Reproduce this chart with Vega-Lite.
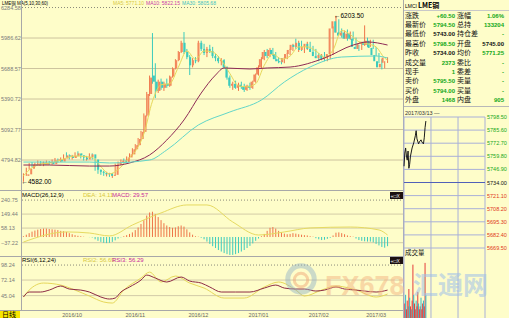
{
"$schema":"https://vega.github.io/schema/vega-lite/v6.json",
"width":509,"height":318,"autosize":"none","padding":0,
"background":"#fefdc9",
"config":{"view":{"stroke":null},"axis":{"disable":true},"legend":{"disable":true},"text":{"font":"Liberation Sans"}},
"datasets":{
"k":[
{"d":0,"o":4640,"h":4665,"l":4582,"c":4655},{"d":1,"o":4655,"h":4720,"l":4640,"c":4710},{"d":2,"o":4710,"h":4765,"l":4700,"c":4750},{"d":3,"o":4750,"h":4775,"l":4725,"c":4740},{"d":4,"o":4740,"h":4770,"l":4730,"c":4760},{"d":5,"o":4760,"h":4790,"l":4745,"c":4770},{"d":6,"o":4770,"h":4785,"l":4740,"c":4750},{"d":7,"o":4750,"h":4780,"l":4735,"c":4765},{"d":8,"o":4765,"h":4790,"l":4750,"c":4775},{"d":9,"o":4775,"h":4785,"l":4745,"c":4755},
{"d":10,"o":4755,"h":4800,"l":4750,"c":4790},{"d":11,"o":4790,"h":4815,"l":4775,"c":4800},{"d":12,"o":4800,"h":4810,"l":4770,"c":4780},{"d":13,"o":4780,"h":4820,"l":4775,"c":4810},{"d":14,"o":4810,"h":4850,"l":4800,"c":4840},{"d":15,"o":4840,"h":4870,"l":4820,"c":4830},{"d":16,"o":4830,"h":4850,"l":4800,"c":4815},{"d":17,"o":4815,"h":4845,"l":4800,"c":4835},{"d":18,"o":4835,"h":4870,"l":4820,"c":4860},{"d":19,"o":4860,"h":4880,"l":4830,"c":4840},
{"d":20,"o":4840,"h":4855,"l":4810,"c":4820},{"d":21,"o":4820,"h":4840,"l":4790,"c":4800},{"d":22,"o":4800,"h":4835,"l":4790,"c":4825},{"d":23,"o":4825,"h":4860,"l":4815,"c":4850},{"d":24,"o":4850,"h":4860,"l":4800,"c":4810},{"d":25,"o":4800,"h":4810,"l":4690,"c":4700},{"d":26,"o":4700,"h":4715,"l":4660,"c":4680},{"d":27,"o":4680,"h":4700,"l":4650,"c":4670},{"d":28,"o":4670,"h":4690,"l":4640,"c":4655},{"d":29,"o":4655,"h":4680,"l":4635,"c":4665},
{"d":30,"o":4665,"h":4670,"l":4630,"c":4640},{"d":31,"o":4640,"h":4665,"l":4620,"c":4650},{"d":32,"o":4650,"h":4760,"l":4645,"c":4750},{"d":33,"o":4750,"h":4780,"l":4735,"c":4770},{"d":34,"o":4770,"h":4800,"l":4750,"c":4790},{"d":35,"o":4790,"h":4810,"l":4760,"c":4775},{"d":36,"o":4775,"h":4830,"l":4770,"c":4820},{"d":37,"o":4820,"h":4860,"l":4810,"c":4850},{"d":38,"o":4850,"h":4910,"l":4840,"c":4900},{"d":39,"o":4900,"h":4950,"l":4880,"c":4940},
{"d":40,"o":4940,"h":5010,"l":4930,"c":5000},{"d":41,"o":5000,"h":5080,"l":4990,"c":5070},{"d":42,"o":5070,"h":5250,"l":5060,"c":5230},{"d":43,"o":5230,"h":5460,"l":5220,"c":5440},{"d":44,"o":5440,"h":5620,"l":5420,"c":5600},{"d":45,"o":5620,"h":6035,"l":5540,"c":5560},{"d":46,"o":5560,"h":5740,"l":5400,"c":5470},{"d":47,"o":5470,"h":5580,"l":5450,"c":5560},{"d":48,"o":5560,"h":5590,"l":5480,"c":5500},{"d":49,"o":5500,"h":5560,"l":5470,"c":5540},
{"d":50,"o":5540,"h":5590,"l":5500,"c":5520},{"d":51,"o":5520,"h":5620,"l":5510,"c":5610},{"d":52,"o":5610,"h":5700,"l":5600,"c":5690},{"d":53,"o":5690,"h":5780,"l":5680,"c":5770},{"d":54,"o":5770,"h":5860,"l":5760,"c":5850},{"d":55,"o":5850,"h":5960,"l":5840,"c":5940},{"d":56,"o":5940,"h":6045,"l":5830,"c":5850},{"d":57,"o":5850,"h":5880,"l":5780,"c":5800},{"d":58,"o":5800,"h":5820,"l":5625,"c":5720},{"d":59,"o":5720,"h":5790,"l":5700,"c":5770},
{"d":60,"o":5770,"h":5800,"l":5740,"c":5760},{"d":61,"o":5760,"h":5960,"l":5750,"c":5940},{"d":62,"o":5940,"h":5960,"l":5860,"c":5880},{"d":63,"o":5880,"h":5930,"l":5820,"c":5840},{"d":64,"o":5840,"h":5900,"l":5800,"c":5880},{"d":65,"o":5880,"h":5920,"l":5840,"c":5860},{"d":66,"o":5860,"h":5900,"l":5790,"c":5810},{"d":67,"o":5810,"h":5830,"l":5760,"c":5790},{"d":68,"o":5790,"h":5810,"l":5740,"c":5760},{"d":69,"o":5760,"h":5790,"l":5720,"c":5770},
{"d":70,"o":5770,"h":5780,"l":5690,"c":5700},{"d":71,"o":5700,"h":5710,"l":5580,"c":5600},{"d":72,"o":5600,"h":5620,"l":5500,"c":5520},{"d":73,"o":5520,"h":5560,"l":5480,"c":5540},{"d":74,"o":5540,"h":5570,"l":5490,"c":5500},{"d":75,"o":5500,"h":5550,"l":5470,"c":5530},{"d":76,"o":5530,"h":5560,"l":5490,"c":5510},{"d":77,"o":5510,"h":5540,"l":5460,"c":5480},{"d":78,"o":5480,"h":5530,"l":5470,"c":5520},{"d":79,"o":5520,"h":5550,"l":5480,"c":5500},
{"d":80,"o":5500,"h":5570,"l":5490,"c":5560},{"d":81,"o":5560,"h":5640,"l":5550,"c":5630},{"d":82,"o":5630,"h":5720,"l":5620,"c":5700},{"d":83,"o":5700,"h":5800,"l":5690,"c":5780},{"d":84,"o":5780,"h":5870,"l":5770,"c":5850},{"d":85,"o":5850,"h":5880,"l":5790,"c":5810},{"d":86,"o":5810,"h":5890,"l":5800,"c":5870},{"d":87,"o":5870,"h":5890,"l":5810,"c":5830},{"d":88,"o":5830,"h":5850,"l":5760,"c":5780},{"d":89,"o":5780,"h":5800,"l":5740,"c":5760},
{"d":90,"o":5760,"h":5790,"l":5730,"c":5750},{"d":91,"o":5750,"h":5800,"l":5740,"c":5790},{"d":92,"o":5790,"h":5840,"l":5780,"c":5830},{"d":93,"o":5830,"h":5880,"l":5820,"c":5870},{"d":94,"o":5870,"h":5930,"l":5860,"c":5920},{"d":95,"o":5920,"h":5980,"l":5880,"c":5900},{"d":96,"o":5900,"h":5960,"l":5850,"c":5940},{"d":97,"o":5940,"h":5960,"l":5860,"c":5870},{"d":98,"o":5870,"h":5920,"l":5840,"c":5900},{"d":99,"o":5900,"h":5950,"l":5870,"c":5930},
{"d":100,"o":5930,"h":5950,"l":5860,"c":5880},{"d":101,"o":5880,"h":5910,"l":5830,"c":5850},{"d":102,"o":5850,"h":5880,"l":5790,"c":5810},{"d":103,"o":5810,"h":5840,"l":5760,"c":5790},{"d":104,"o":5790,"h":5830,"l":5770,"c":5820},{"d":105,"o":5820,"h":5850,"l":5760,"c":5780},{"d":106,"o":5780,"h":5820,"l":5760,"c":5800},{"d":107,"o":5800,"h":5840,"l":5780,"c":5830},{"d":108,"o":5830,"h":6100,"l":5820,"c":6080},{"d":109,"o":6080,"h":6203.5,"l":6040,"c":6150},
{"d":110,"o":6150,"h":6170,"l":6020,"c":6040},{"d":111,"o":6040,"h":6080,"l":5990,"c":6010},{"d":112,"o":6010,"h":6060,"l":5980,"c":6040},{"d":113,"o":6040,"h":6070,"l":5960,"c":5980},{"d":114,"o":5980,"h":6050,"l":5970,"c":6030},{"d":115,"o":6030,"h":6050,"l":5960,"c":5980},{"d":116,"o":5980,"h":5990,"l":5880,"c":5900},{"d":117,"o":5900,"h":5920,"l":5860,"c":5880},{"d":118,"o":5880,"h":5950,"l":5870,"c":5930},{"d":119,"o":5930,"h":6110,"l":5910,"c":5950},
{"d":120,"o":5950,"h":5990,"l":5900,"c":5920},{"d":121,"o":5920,"h":5970,"l":5900,"c":5960},{"d":122,"o":5960,"h":5970,"l":5880,"c":5890},{"d":123,"o":5890,"h":5900,"l":5810,"c":5820},{"d":124,"o":5820,"h":5840,"l":5740,"c":5760},{"d":125,"o":5760,"h":5780,"l":5680,"c":5700},{"d":126,"o":5700,"h":5760,"l":5690,"c":5734},{"d":127,"o":5745,"h":5798.5,"l":5743,"c":5794.5}
],
"ma":[
{"s":"MA5","d":0,"p":4640},{"s":"MA5","d":3,"p":4720},{"s":"MA5","d":6,"p":4755},{"s":"MA5","d":9,"p":4765},{"s":"MA5","d":12,"p":4785},{"s":"MA5","d":15,"p":4815},{"s":"MA5","d":18,"p":4835},{"s":"MA5","d":21,"p":4830},{"s":"MA5","d":24,"p":4820},{"s":"MA5","d":27,"p":4730},{"s":"MA5","d":30,"p":4660},{"s":"MA5","d":33,"p":4700},{"s":"MA5","d":36,"p":4790},{"s":"MA5","d":39,"p":4880},{"s":"MA5","d":42,"p":5050},{"s":"MA5","d":45,"p":5370},{"s":"MA5","d":48,"p":5530},{"s":"MA5","d":51,"p":5540},{"s":"MA5","d":54,"p":5700},{"s":"MA5","d":57,"p":5860},{"s":"MA5","d":60,"p":5780},{"s":"MA5","d":63,"p":5860},{"s":"MA5","d":66,"p":5850},{"s":"MA5","d":69,"p":5770},{"s":"MA5","d":72,"p":5640},{"s":"MA5","d":75,"p":5520},{"s":"MA5","d":78,"p":5510},{"s":"MA5","d":81,"p":5540},{"s":"MA5","d":84,"p":5720},{"s":"MA5","d":87,"p":5830},{"s":"MA5","d":90,"p":5780},{"s":"MA5","d":93,"p":5810},{"s":"MA5","d":96,"p":5900},{"s":"MA5","d":99,"p":5900},{"s":"MA5","d":102,"p":5860},{"s":"MA5","d":105,"p":5800},{"s":"MA5","d":108,"p":5870},{"s":"MA5","d":111,"p":6060},{"s":"MA5","d":114,"p":6020},{"s":"MA5","d":117,"p":5950},{"s":"MA5","d":120,"p":5930},{"s":"MA5","d":123,"p":5900},{"s":"MA5","d":126,"p":5790},{"s":"MA5","d":127,"p":5771},
{"s":"MA30","d":0,"p":4746},{"s":"MA30","d":9,"p":4746},{"s":"MA30","d":23,"p":4736},{"s":"MA30","d":30,"p":4736},{"s":"MA30","d":37,"p":4766},{"s":"MA30","d":44,"p":4844},{"s":"MA30","d":50,"p":4990},{"s":"MA30","d":56,"p":5186},{"s":"MA30","d":62,"p":5449},{"s":"MA30","d":67,"p":5625},{"s":"MA30","d":70,"p":5694},{"s":"MA30","d":79,"p":5684},{"s":"MA30","d":85,"p":5694},{"s":"MA30","d":93,"p":5703},{"s":"MA30","d":105,"p":5791},{"s":"MA30","d":115,"p":5918},{"s":"MA30","d":120,"p":5948},{"s":"MA30","d":127,"p":5918},
{"s":"MA60","d":0,"p":4775},{"s":"MA60","d":23,"p":4775},{"s":"MA60","d":30,"p":4766},{"s":"MA60","d":44,"p":4795},{"s":"MA60","d":50,"p":4893},{"s":"MA60","d":61,"p":5137},{"s":"MA60","d":72,"p":5264},{"s":"MA60","d":83,"p":5381},{"s":"MA60","d":91,"p":5557},{"s":"MA60","d":100,"p":5704},{"s":"MA60","d":111,"p":5801},{"s":"MA60","d":123,"p":5811},{"s":"MA60","d":127,"p":5791}
],
"mh":[
{"d":0,"m":5},{"d":1,"m":15},{"d":2,"m":25},{"d":3,"m":35},{"d":4,"m":42},{"d":5,"m":48},{"d":6,"m":52},{"d":7,"m":55},{"d":8,"m":55},{"d":9,"m":52},{"d":10,"m":50},{"d":11,"m":48},{"d":12,"m":45},{"d":13,"m":40},{"d":14,"m":38},{"d":15,"m":33},{"d":16,"m":25},{"d":17,"m":18},{"d":18,"m":12},{"d":19,"m":8},{"d":20,"m":5},{"d":21,"m":2},{"d":22,"m":0},{"d":23,"m":-1},{"d":24,"m":-3},{"d":25,"m":-15},{"d":26,"m":-25},{"d":27,"m":-32},{"d":28,"m":-38},{"d":29,"m":-40},{"d":30,"m":-38},{"d":31,"m":-32},{"d":32,"m":-22},{"d":33,"m":-10},{"d":34,"m":-2},{"d":35,"m":5},{"d":36,"m":12},{"d":37,"m":20},{"d":38,"m":30},{"d":39,"m":45},{"d":40,"m":62},{"d":41,"m":85},{"d":42,"m":110},{"d":43,"m":140},{"d":44,"m":160},{"d":45,"m":165},{"d":46,"m":150},{"d":47,"m":130},{"d":48,"m":110},{"d":49,"m":90},{"d":50,"m":75},{"d":51,"m":65},{"d":52,"m":60},{"d":53,"m":62},{"d":54,"m":70},{"d":55,"m":75},{"d":56,"m":68},{"d":57,"m":50},{"d":58,"m":30},{"d":59,"m":15},{"d":60,"m":5},{"d":61,"m":2},{"d":62,"m":-5},{"d":63,"m":-15},{"d":64,"m":-30},{"d":65,"m":-45},{"d":66,"m":-60},{"d":67,"m":-72},{"d":68,"m":-85},{"d":69,"m":-95},{"d":70,"m":-105},{"d":71,"m":-112},{"d":72,"m":-117},{"d":73,"m":-117},{"d":74,"m":-112},{"d":75,"m":-105},{"d":76,"m":-95},{"d":77,"m":-85},{"d":78,"m":-72},{"d":79,"m":-58},{"d":80,"m":-42},{"d":81,"m":-25},{"d":82,"m":-10},{"d":83,"m":5},{"d":84,"m":20},{"d":85,"m":40},{"d":86,"m":60},{"d":87,"m":65},{"d":88,"m":55},{"d":89,"m":40},{"d":90,"m":30},{"d":91,"m":22},{"d":92,"m":18},{"d":93,"m":20},{"d":94,"m":25},{"d":95,"m":22},{"d":96,"m":18},{"d":97,"m":15},{"d":98,"m":12},{"d":99,"m":10},{"d":100,"m":5},{"d":101,"m":2},{"d":102,"m":-8},{"d":103,"m":-15},{"d":104,"m":-20},{"d":105,"m":-18},{"d":106,"m":-12},{"d":107,"m":-5},{"d":108,"m":10},{"d":109,"m":28},{"d":110,"m":30},{"d":111,"m":25},{"d":112,"m":18},{"d":113,"m":10},{"d":114,"m":5},{"d":115,"m":2},{"d":116,"m":-10},{"d":117,"m":-20},{"d":118,"m":-25},{"d":119,"m":-28},{"d":120,"m":-30},{"d":121,"m":-30},{"d":122,"m":-35},{"d":123,"m":-45},{"d":124,"m":-55},{"d":125,"m":-65},{"d":126,"m":-70},{"d":127,"m":-60}
],
"dea":[{"d":0,"v":-33},{"d":15,"v":33},{"d":23,"v":26},{"d":30,"v":7},{"d":38,"v":78},{"d":48,"v":157},{"d":57,"v":209},{"d":64,"v":209},{"d":73,"v":98},{"d":82,"v":13},{"d":91,"v":33},{"d":100,"v":59},{"d":114,"v":65},{"d":124,"v":46},{"d":127,"v":13}],
"rsi":[
{"s":"RSI2","d":0,"v":42.6},{"s":"RSI2","d":2,"v":54.7},{"s":"RSI2","d":7,"v":66.9},{"s":"RSI2","d":13,"v":63.4},{"s":"RSI2","d":18,"v":54.7},{"s":"RSI2","d":23,"v":44.3},{"s":"RSI2","d":28,"v":33.9},{"s":"RSI2","d":31,"v":32.1},{"s":"RSI2","d":35,"v":54.7},{"s":"RSI2","d":41,"v":75.6},{"s":"RSI2","d":44,"v":86},{"s":"RSI2","d":48,"v":68.7},{"s":"RSI2","d":53,"v":79.1},{"s":"RSI2","d":58,"v":66.9},{"s":"RSI2","d":63,"v":58.2},{"s":"RSI2","d":70,"v":40.8},{"s":"RSI2","d":77,"v":40.8},{"s":"RSI2","d":84,"v":60},{"s":"RSI2","d":89,"v":68.7},{"s":"RSI2","d":95,"v":54.7},{"s":"RSI2","d":98,"v":44.3},{"s":"RSI2","d":104,"v":54.7},{"s":"RSI2","d":109,"v":61.7},{"s":"RSI2","d":116,"v":54.7},{"s":"RSI2","d":123,"v":42.6},{"s":"RSI2","d":127,"v":47.8},
{"s":"RSI3","d":0,"v":42.6},{"s":"RSI3","d":2,"v":51.3},{"s":"RSI3","d":6,"v":51.3},{"s":"RSI3","d":9,"v":54.7},{"s":"RSI3","d":13,"v":61.7},{"s":"RSI3","d":16,"v":56.5},{"s":"RSI3","d":20,"v":54.7},{"s":"RSI3","d":23,"v":51.3},{"s":"RSI3","d":27,"v":42.6},{"s":"RSI3","d":30,"v":39.1},{"s":"RSI3","d":32,"v":40.8},{"s":"RSI3","d":34,"v":51.3},{"s":"RSI3","d":37,"v":60},{"s":"RSI3","d":41,"v":72.1},{"s":"RSI3","d":43,"v":80.8},{"s":"RSI3","d":46,"v":75.6},{"s":"RSI3","d":50,"v":68.7},{"s":"RSI3","d":55,"v":77.4},{"s":"RSI3","d":58,"v":70.4},{"s":"RSI3","d":62,"v":66.9},{"s":"RSI3","d":65,"v":60},{"s":"RSI3","d":69,"v":51.3},{"s":"RSI3","d":74,"v":51.3},{"s":"RSI3","d":79,"v":51.3},{"s":"RSI3","d":84,"v":58.2},{"s":"RSI3","d":88,"v":63.4},{"s":"RSI3","d":91,"v":58.2},{"s":"RSI3","d":95,"v":56.5},{"s":"RSI3","d":98,"v":56.5},{"s":"RSI3","d":102,"v":53},{"s":"RSI3","d":105,"v":54.7},{"s":"RSI3","d":109,"v":60},{"s":"RSI3","d":112,"v":56.5},{"s":"RSI3","d":116,"v":54.7},{"s":"RSI3","d":119,"v":53},{"s":"RSI3","d":123,"v":51.3},{"s":"RSI3","d":127,"v":54.7}
],
"pgrid":[{"v":6284.58},{"v":5986.62},{"v":5688.57},{"v":5390.72},{"v":5092.77},{"v":4794.82}],
"mgrid":[{"v":240.75},{"v":149.44},{"v":58.13},{"v":-37.22}],
"rgrid":[{"v":98.24},{"v":72.14},{"v":45.04}],
"dates":[{"d":17,"t":"2016/10"},{"d":39,"t":"2016/11"},{"d":61,"t":"2016/12"},{"d":82,"t":"2017/01"},{"d":103,"t":"2017/02"},{"d":123,"t":"2017/03"}],
"ann":[{"d":0,"p":4582,"t":"←4582.00"},{"d":109,"p":6203.5,"t":"←6203.50"}],
"tbl":[
{"r":0,"l1":"涨跌","v1":"+60.50","l2":"涨幅","v2":"1.06%"},
{"r":1,"l1":"最新价","v1":"5794.50","l2":"总持","v2":"133204"},
{"r":2,"l1":"最低价","v1":"5743.00","l2":"持仓差","v2":"-"},
{"r":3,"l1":"最高价","v1":"5798.50","l2":"开盘","v2":"5745.00"},
{"r":4,"l1":"昨收","v1":"5734.00","l2":"均价","v2":"5771.25"},
{"r":5,"l1":"成交量","v1":"2373","l2":"委比","v2":"-"},
{"r":6,"l1":"现手","v1":"1","l2":"委差","v2":"-"},
{"r":7,"l1":"卖价","v1":"5795.50","l2":"卖量","v2":"-"},
{"r":8,"l1":"买价","v1":"5794.00","l2":"买量","v2":"-"},
{"r":9,"l1":"外盘","v1":"1468","l2":"内盘","v2":"905"}
],
"ig":[{"v":5798.5},{"v":5785.6},{"v":5772.7},{"v":5759.8},{"v":5746.9},{"v":5734},{"v":5721.1},{"v":5708.2},{"v":5695.3},{"v":5682.4},{"v":5669.5}],
"ivx":[{"t":0},{"t":33.3},{"t":66.7},{"t":100}],
"tk":[{"t":0,"p":5750},{"t":1,"p":5763},{"t":2,"p":5768},{"t":3,"p":5760},{"t":4,"p":5756},{"t":5,"p":5765},{"t":6,"p":5748},{"t":7,"p":5752},{"t":8,"p":5760},{"t":10,"p":5768},{"t":12,"p":5773},{"t":14,"p":5780},{"t":15,"p":5785},{"t":16,"p":5777},{"t":18,"p":5772},{"t":19,"p":5774},{"t":21,"p":5776},{"t":22,"p":5774},{"t":24,"p":5772},{"t":25,"p":5778},{"t":26,"p":5788},{"t":27,"p":5794.5}],
"vol":[{"t":1,"v":25,"s":"b"},{"t":2,"v":40,"s":"s"},{"t":3,"v":15,"s":"b"},{"t":4,"v":30,"s":"b"},{"t":5,"v":20,"s":"s"},{"t":6,"v":50,"s":"b"},{"t":7,"v":35,"s":"s"},{"t":8,"v":20,"s":"b"},{"t":9,"v":15,"s":"s"},{"t":10,"v":30,"s":"b"},{"t":11,"v":92,"s":"b"},{"t":12,"v":40,"s":"s"},{"t":13,"v":25,"s":"b"},{"t":14,"v":15,"s":"b"},{"t":15,"v":30,"s":"s"},{"t":16,"v":20,"s":"b"},{"t":17,"v":45,"s":"b"},{"t":18,"v":25,"s":"s"},{"t":19,"v":15,"s":"b"},{"t":20,"v":20,"s":"b"},{"t":21,"v":35,"s":"s"},{"t":22,"v":15,"s":"b"},{"t":23,"v":25,"s":"b"},{"t":24,"v":30,"s":"s"},{"t":25,"v":20,"s":"b"},{"t":26,"v":95,"s":"b"},{"t":27,"v":40,"s":"s"}]
},
"layer":[
{"data":{"name":"pgrid"},"transform":[{"filter":"datum.v < 6000"}],"mark":{"type":"rule","color":"#cdc49e","strokeWidth":1},"encoding":{"x":{"value":22},"x2":{"value":403},"y":{"field":"v","type":"quantitative","scale":{"domain":[4502,6358],"range":[190,0],"nice":false,"zero":false}}}},
{"data":{"name":"pgrid"},"transform":[{"filter":"datum.v > 6000"}],"mark":{"type":"rule","color":"#8a8a7a","strokeWidth":1,"strokeDash":[1,2]},"encoding":{"x":{"value":22},"x2":{"value":403},"y":{"field":"v","type":"quantitative","scale":{"domain":[4502,6358],"range":[190,0],"nice":false,"zero":false}}}},
{"data":{"name":"pgrid"},"mark":{"type":"text","align":"left","baseline":"middle","fontSize":5.5,"color":"#7a7a7a"},"encoding":{"x":{"value":1},"y":{"field":"v","type":"quantitative","scale":{"domain":[4502,6358],"range":[190,0],"nice":false,"zero":false}},"text":{"field":"v","type":"quantitative","format":".2f"}}},
{"data":{"name":"k"},"mark":{"type":"rule","strokeWidth":1},"encoding":{"x":{"field":"d","type":"quantitative","scale":{"domain":[-0.5,127.5],"range":[22,389],"nice":false,"zero":false}},"y":{"field":"l","type":"quantitative","scale":{"domain":[4502,6358],"range":[190,0],"nice":false,"zero":false}},"y2":{"field":"h"},"color":{"condition":{"test":"datum.c >= datum.o","value":"#ee7448"},"value":"#3ccbbd"}}},
{"data":{"name":"k"},"mark":{"type":"bar","size":2},"encoding":{"x":{"field":"d","type":"quantitative","scale":{"domain":[-0.5,127.5],"range":[22,389],"nice":false,"zero":false}},"y":{"field":"o","type":"quantitative","scale":{"domain":[4502,6358],"range":[190,0],"nice":false,"zero":false}},"y2":{"field":"c"},"color":{"condition":{"test":"datum.c >= datum.o","value":"#f38a5e"},"value":"#3ccbbd"}}},
{"data":{"name":"ma"},"mark":{"type":"line","strokeWidth":1,"interpolate":"monotone"},"encoding":{"x":{"field":"d","type":"quantitative","scale":{"domain":[-0.5,127.5],"range":[22,389],"nice":false,"zero":false}},"y":{"field":"p","type":"quantitative","scale":{"domain":[4502,6358],"range":[190,0],"nice":false,"zero":false}},"color":{"field":"s","type":"nominal","scale":{"domain":["MA5","MA30","MA60"],"range":["#e6d75a","#8e2a55","#62d6c8"]}}}},
{"data":{"name":"ann"},"mark":{"type":"text","align":"left","baseline":"middle","fontSize":6.5,"color":"#000000","dx":-2},"encoding":{"x":{"field":"d","type":"quantitative","scale":{"domain":[-0.5,127.5],"range":[22,389],"nice":false,"zero":false}},"y":{"field":"p","type":"quantitative","scale":{"domain":[4502,6358],"range":[190,0],"nice":false,"zero":false}},"text":{"field":"t"}}},
{"data":{"values":[{}]},"mark":{"type":"text","align":"left","baseline":"top","fontSize":4.5,"color":"#000000","font":"Liberation Sans, Noto Sans CJK SC"},"encoding":{"x":{"value":2},"y":{"value":0.6},"text":{"value":"LME铜 MA(5,10,30,60)"}}},
{"data":{"values":[{}]},"mark":{"type":"text","align":"left","baseline":"top","fontSize":5,"color":"#d8c840"},"encoding":{"x":{"value":113},"y":{"value":0.6},"text":{"value":"MA5: 5771.10"}}},
{"data":{"values":[{}]},"mark":{"type":"text","align":"left","baseline":"top","fontSize":5,"color":"#c83ca8"},"encoding":{"x":{"value":146},"y":{"value":0.6},"text":{"value":"MA10: 5822.15"}}},
{"data":{"values":[{}]},"mark":{"type":"text","align":"left","baseline":"top","fontSize":5,"color":"#40c0c0"},"encoding":{"x":{"value":182},"y":{"value":0.6},"text":{"value":"MA30: 5805.68"}}},

{"data":{"name":"mgrid"},"mark":{"type":"rule","color":"#d3cba8","strokeWidth":1},"transform":[{"filter":"datum.v < 200"}],"encoding":{"x":{"value":22},"x2":{"value":403},"y":{"field":"v","type":"quantitative","scale":{"domain":[-124,306.6],"range":[256,190],"nice":false,"zero":false}}}},
{"data":{"name":"mgrid"},"mark":{"type":"rule","color":"#8a8a7a","strokeWidth":1,"strokeDash":[1,2]},"transform":[{"filter":"datum.v > 200"}],"encoding":{"x":{"value":22},"x2":{"value":403},"y":{"field":"v","type":"quantitative","scale":{"domain":[-124,306.6],"range":[256,190],"nice":false,"zero":false}}}},
{"data":{"name":"mgrid"},"mark":{"type":"text","align":"left","baseline":"middle","fontSize":5.5,"color":"#7a7a7a"},"encoding":{"x":{"value":1},"y":{"field":"v","type":"quantitative","scale":{"domain":[-124,306.6],"range":[256,190],"nice":false,"zero":false}},"text":{"field":"v","type":"quantitative","format":".2f"}}},
{"data":{"name":"mh"},"mark":{"type":"rule","strokeWidth":1},"encoding":{"x":{"field":"d","type":"quantitative","scale":{"domain":[-0.5,127.5],"range":[22,389],"nice":false,"zero":false}},"y":{"field":"m","type":"quantitative","scale":{"domain":[-124,306.6],"range":[256,190],"nice":false,"zero":false}},"y2":{"datum":0},"color":{"condition":{"test":"datum.m >= 0","value":"#ee7448"},"value":"#3ccbbd"}}},
{"data":{"name":"dea"},"mark":{"type":"line","strokeWidth":1,"interpolate":"monotone","color":"#e6da60"},"encoding":{"x":{"field":"d","type":"quantitative","scale":{"domain":[-0.5,127.5],"range":[22,389],"nice":false,"zero":false}},"y":{"field":"v","type":"quantitative","scale":{"domain":[-124,306.6],"range":[256,190],"nice":false,"zero":false}}}},
{"data":{"values":[{}]},"mark":{"type":"text","align":"left","baseline":"middle","fontSize":6,"color":"#000000"},"encoding":{"x":{"value":22},"y":{"value":195},"text":{"value":"MACD(26,12,9)"}}},
{"data":{"values":[{}]},"mark":{"type":"text","align":"left","baseline":"middle","fontSize":6,"color":"#d8c840"},"encoding":{"x":{"value":83},"y":{"value":195},"text":{"value":"DEA: 14.11"}}},
{"data":{"values":[{}]},"mark":{"type":"text","align":"left","baseline":"middle","fontSize":6,"color":"#c8289c"},"encoding":{"x":{"value":112},"y":{"value":195},"text":{"value":"MACD: 29.57"}}},

{"data":{"name":"rgrid"},"mark":{"type":"rule","color":"#d3cba8","strokeWidth":1},"transform":[{"filter":"datum.v < 90"}],"encoding":{"x":{"value":22},"x2":{"value":403},"y":{"field":"v","type":"quantitative","scale":{"domain":[20,114],"range":[310,256],"nice":false,"zero":false}}}},
{"data":{"name":"rgrid"},"mark":{"type":"rule","color":"#8a8a7a","strokeWidth":1,"strokeDash":[1,2]},"transform":[{"filter":"datum.v > 90"}],"encoding":{"x":{"value":22},"x2":{"value":403},"y":{"field":"v","type":"quantitative","scale":{"domain":[20,114],"range":[310,256],"nice":false,"zero":false}}}},
{"data":{"name":"rgrid"},"mark":{"type":"text","align":"left","baseline":"middle","fontSize":5.5,"color":"#7a7a7a"},"encoding":{"x":{"value":1},"y":{"field":"v","type":"quantitative","scale":{"domain":[20,114],"range":[310,256],"nice":false,"zero":false}},"text":{"field":"v","type":"quantitative","format":".2f"}}},
{"data":{"name":"rsi"},"mark":{"type":"line","strokeWidth":1,"interpolate":"monotone"},"encoding":{"x":{"field":"d","type":"quantitative","scale":{"domain":[-0.5,127.5],"range":[22,389],"nice":false,"zero":false}},"y":{"field":"v","type":"quantitative","scale":{"domain":[20,114],"range":[310,256],"nice":false,"zero":false}},"color":{"field":"s","type":"nominal","scale":{"domain":["RSI2","RSI3"],"range":["#e6d75a","#8e2a45"]}},"order":{"field":"d"}}},
{"data":{"values":[{}]},"mark":{"type":"text","align":"left","baseline":"middle","fontSize":6,"color":"#000000"},"encoding":{"x":{"value":22},"y":{"value":260},"text":{"value":"RSI(6,12,24)"}}},
{"data":{"values":[{}]},"mark":{"type":"text","align":"left","baseline":"middle","fontSize":6,"color":"#d8c840"},"encoding":{"x":{"value":83},"y":{"value":260},"text":{"value":"RSI2: 56.69"}}},
{"data":{"values":[{}]},"mark":{"type":"text","align":"left","baseline":"middle","fontSize":6,"color":"#c8289c"},"encoding":{"x":{"value":112},"y":{"value":260},"text":{"value":"RSI3: 56.29"}}},

{"data":{"name":"dates"},"mark":{"type":"text","align":"center","baseline":"middle","fontSize":5.5,"color":"#666666"},"encoding":{"x":{"field":"d","type":"quantitative","scale":{"domain":[-0.5,127.5],"range":[22,389],"nice":false,"zero":false}},"y":{"value":314.5},"text":{"field":"t"}}},

{"data":{"values":[{}]},"mark":{"type":"rule","color":"#a8a8a8"},"encoding":{"x":{"value":21.5},"y":{"value":0},"y2":{"value":310}}},
{"data":{"values":[{}]},"mark":{"type":"rule","color":"#a8a8a8"},"encoding":{"x":{"value":403.5},"y":{"value":0},"y2":{"value":318}}},
{"data":{"values":[{}]},"mark":{"type":"rule","color":"#a8a8a8"},"encoding":{"x":{"value":0},"x2":{"value":403},"y":{"value":190.5}}},
{"data":{"values":[{}]},"mark":{"type":"rule","color":"#a8a8a8"},"encoding":{"x":{"value":0},"x2":{"value":403},"y":{"value":256.5}}},
{"data":{"values":[{}]},"mark":{"type":"rule","color":"#a8a8a8"},"encoding":{"x":{"value":0},"x2":{"value":403},"y":{"value":310.5}}},
{"data":{"values":[{}]},"mark":{"type":"rect","color":"#f9e600"},"encoding":{"x":{"value":0},"x2":{"value":20},"y":{"value":311},"y2":{"value":318}}},
{"data":{"values":[{}]},"mark":{"type":"text","align":"left","baseline":"middle","fontSize":7,"color":"#000000","font":"Noto Sans CJK SC"},"encoding":{"x":{"value":2},"y":{"value":314.5},"text":{"value":"日线"}}},
{"data":{"values":[{}]},"mark":{"type":"rect","color":"#1c1010"},"encoding":{"x":{"value":390},"x2":{"value":403},"y":{"value":192},"y2":{"value":199}}},
{"data":{"values":[{}]},"mark":{"type":"rect","color":"#1c1010"},"encoding":{"x":{"value":390},"x2":{"value":403},"y":{"value":257},"y2":{"value":264}}},
{"data":{"values":[{}]},"mark":{"type":"text","align":"left","baseline":"middle","fontSize":5,"color":"#f0f0f0"},"encoding":{"x":{"value":390.5},"y":{"value":195.5},"text":{"value":"+□X"}}},
{"data":{"values":[{}]},"mark":{"type":"text","align":"left","baseline":"middle","fontSize":5,"color":"#f0f0f0"},"encoding":{"x":{"value":390.5},"y":{"value":260.5},"text":{"value":"+□X"}}},

{"data":{"values":[{}]},"mark":{"type":"text","align":"left","baseline":"middle","fontSize":5,"color":"#000000"},"encoding":{"x":{"value":405},"y":{"value":5.5},"text":{"value":"LMCI"}}},
{"data":{"values":[{}]},"mark":{"type":"text","align":"left","baseline":"middle","fontSize":7,"fontWeight":"bold","color":"#000000","font":"Noto Sans CJK SC"},"encoding":{"x":{"value":418},"y":{"value":5.5},"text":{"value":"LME铜"}}},
{"data":{"values":[{}]},"mark":{"type":"rule","color":"#c8c8c8"},"encoding":{"x":{"value":404},"x2":{"value":509},"y":{"value":10.5}}},
{"data":{"values":[{}]},"mark":{"type":"rule","color":"#b8b8b8"},"encoding":{"x":{"value":404},"x2":{"value":509},"y":{"value":106.5}}},
{"data":{"name":"tbl"},"mark":{"type":"text","align":"left","baseline":"middle","fontSize":7,"color":"#111111","font":"Noto Sans CJK SC"},"encoding":{"x":{"value":405},"y":{"field":"r","type":"quantitative","scale":{"domain":[0,9],"range":[15.7,100],"nice":false,"zero":false}},"text":{"field":"l1"}}},
{"data":{"name":"tbl"},"mark":{"type":"text","align":"left","baseline":"middle","fontSize":7,"color":"#111111","font":"Noto Sans CJK SC"},"encoding":{"x":{"value":457},"y":{"field":"r","type":"quantitative","scale":{"domain":[0,9],"range":[15.7,100],"nice":false,"zero":false}},"text":{"field":"l2"}}},
{"data":{"name":"tbl"},"mark":{"type":"text","align":"right","baseline":"middle","fontSize":6,"fontWeight":"bold"},"encoding":{"x":{"value":455},"y":{"field":"r","type":"quantitative","scale":{"domain":[0,9],"range":[15.7,100],"nice":false,"zero":false}},"text":{"field":"v1"},"color":{"condition":{"test":"datum.r == 2 || datum.r == 4","value":"#111111"},"value":"#10a818"}}},
{"data":{"name":"tbl"},"mark":{"type":"text","align":"right","baseline":"middle","fontSize":6,"fontWeight":"bold"},"encoding":{"x":{"value":504},"y":{"field":"r","type":"quantitative","scale":{"domain":[0,9],"range":[15.7,100],"nice":false,"zero":false}},"text":{"field":"v2"},"color":{"condition":{"test":"datum.r == 3","value":"#111111"},"value":"#10a818"}}},
{"data":{"values":[{}]},"mark":{"type":"text","align":"left","baseline":"middle","fontSize":5.5,"color":"#333333"},"encoding":{"x":{"value":405},"y":{"value":112.5},"text":{"value":"2017/03/13 —"}}},

{"data":{"name":"ivx"},"mark":{"type":"rule","color":"#a9b0d8","strokeWidth":1},"encoding":{"x":{"field":"t","type":"quantitative","scale":{"domain":[0,100],"range":[404,485],"nice":false,"zero":false}},"y":{"value":117},"y2":{"value":318}}},
{"data":{"name":"ig"},"mark":{"type":"rule","strokeWidth":1},"encoding":{"x":{"value":404},"x2":{"value":485},"y":{"field":"v","type":"quantitative","scale":{"domain":[5669.5,5798.5],"range":[248,117],"nice":false,"zero":false}},"color":{"condition":{"test":"datum.v == 5734","value":"#5060b8"},"value":"#a9b0d8"}}},
{"data":{"name":"ig"},"mark":{"type":"text","align":"left","baseline":"middle","fontSize":5.5},"encoding":{"x":{"value":487},"y":{"field":"v","type":"quantitative","scale":{"domain":[5669.5,5798.5],"range":[248,117],"nice":false,"zero":false}},"text":{"field":"v","type":"quantitative","format":".2f"},"color":{"condition":[{"test":"datum.v > 5735","value":"#18a820"},{"test":"datum.v < 5733","value":"#e03820"}],"value":"#111111"}}},
{"data":{"name":"tk"},"mark":{"type":"line","strokeWidth":1,"color":"#1a1a1a"},"encoding":{"x":{"field":"t","type":"quantitative","scale":{"domain":[0,100],"range":[404,485],"nice":false,"zero":false}},"y":{"field":"p","type":"quantitative","scale":{"domain":[5669.5,5798.5],"range":[248,117],"nice":false,"zero":false}}}},
{"data":{"values":[{}]},"mark":{"type":"text","align":"left","baseline":"middle","fontSize":6.5,"color":"#111111","font":"Noto Sans CJK SC"},"encoding":{"x":{"value":405},"y":{"value":253},"text":{"value":"成交量"}}},
{"data":{"name":"vol"},"mark":{"type":"rule","strokeWidth":1},"encoding":{"x":{"field":"t","type":"quantitative","scale":{"domain":[0,100],"range":[404,485],"nice":false,"zero":false}},"y":{"field":"v","type":"quantitative","scale":{"domain":[0,100],"range":[318,260],"nice":false,"zero":false}},"y2":{"datum":0},"color":{"field":"s","type":"nominal","scale":{"domain":["b","s"],"range":["#e43c3c","#34b8c8"]}}}},

{"data":{"values":[{}]},"mark":{"type":"point","shape":"circle","filled":false,"size":700,"strokeWidth":5,"color":"#8fb0c8","opacity":0.45},"encoding":{"x":{"value":301},"y":{"value":279}}},
{"data":{"values":[{}]},"mark":{"type":"point","shape":"circle","filled":false,"size":180,"strokeWidth":3,"color":"#f0a070","opacity":0.45},"encoding":{"x":{"value":301},"y":{"value":280}}},
{"data":{"values":[{}]},"mark":{"type":"text","align":"left","baseline":"alphabetic","fontSize":27,"fontWeight":"bold","color":"#f4b482","opacity":0.5},"encoding":{"x":{"value":325},"y":{"value":295},"text":{"value":"FX678"}}},
{"data":{"values":[{}]},"mark":{"type":"text","align":"left","baseline":"alphabetic","fontSize":25,"fontWeight":"bold","font":"Noto Sans CJK SC","color":"#9ec0ea","opacity":0.55},"encoding":{"x":{"value":413},"y":{"value":294},"text":{"value":"汇通网"}}}
],
"resolve":{"scale":{"x":"independent","y":"independent","color":"independent"}}
}
